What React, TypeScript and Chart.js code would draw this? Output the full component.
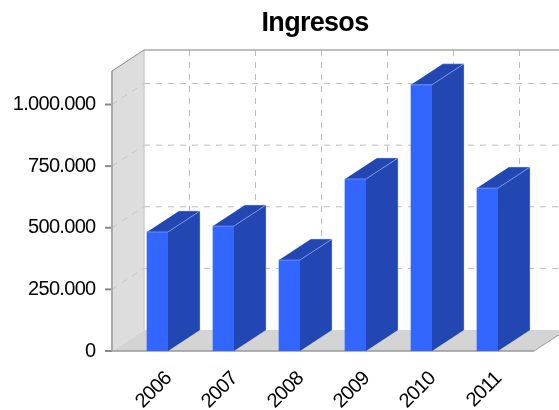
import React, { useEffect, useRef } from "react";
import { Chart, registerables } from "chart.js";

Chart.register(...registerables);

const titleText = "Ingresos";
const years = ["2006", "2007", "2008", "2009", "2010", "2011"];
const ingresos = [483000, 507000, 369000, 698000, 1080000, 661000];
const yTicks = [0, 250000, 500000, 750000, 1000000];
const yMax = 1136000;

const DX = 32;
const DY = 21;
const EXT_L = 12.5;
const EXT_R = 13.5;

const fmt = (v: number) => String(v).replace(/\B(?=(\d{3})+$)/g, ".");

const line = (ctx: any, pts: number[][], color: string, w: number, dash: number[] = []) => {
  ctx.save();
  ctx.strokeStyle = color;
  ctx.lineWidth = w;
  ctx.setLineDash(dash);
  ctx.beginPath();
  pts.forEach((p, i) => (i ? ctx.lineTo(p[0], p[1]) : ctx.moveTo(p[0], p[1])));
  ctx.stroke();
  ctx.restore();
};
const poly = (ctx: any, pts: number[][], color: string) => {
  ctx.fillStyle = color;
  ctx.beginPath();
  pts.forEach((p, i) => (i ? ctx.lineTo(p[0], p[1]) : ctx.moveTo(p[0], p[1])));
  ctx.closePath();
  ctx.fill();
};

const box3d = {
  id: "box3d",
  afterLayout(chart: any) {
    if (chart.titleBlock) {
      chart.titleBlock.left = 71;
      chart.titleBlock.right = 559;
    }
  },
  beforeDraw(chart: any) {
    chart.ctx.letterSpacing = "-0.7px";
  },
  beforeDatasetsDraw(chart: any) {
    const { ctx, chartArea: a, scales } = chart;
    const L = a.left - EXT_L;
    const R = a.right + EXT_R;
    const T = a.top;
    const B = a.bottom;
    // left wall and floor
    poly(ctx, [[L, T], [L + DX, T - DY], [L + DX, B - DY], [L, B]], "#dddddd");
    poly(ctx, [[L, B], [L + DX, B - DY], [R + DX, B - DY], [R, B]], "#d4d4d4");
    // grid
    const dash = [6, 6];
    scales.y.ticks.forEach((t: any) => {
      const y = scales.y.getPixelForValue(t.value);
      if (t.value > 0) {
        line(ctx, [[L, y], [L + DX, y - DY]], "#c4c4c4", 1, dash);
        line(ctx, [[L + DX, y - DY], [R + DX, y - DY]], "#bcbcbc", 1, dash);
      }
      line(ctx, [[L - 7, y], [L, y]], "#888888", 2);
    });
    years.forEach((_, i) => {
      const x = scales.x.getPixelForValue(i) + DX;
      line(ctx, [[x, T - DY], [x, B - DY]], "#bcbcbc", 1, dash);
    });
    // edges
    line(ctx, [[L + DX, T - DY], [L + DX, B - DY]], "#cccccc", 1.5);
    line(ctx, [[L, B], [L, T]], "#aaaaaa", 2);
    line(ctx, [[L, T], [L + DX, T - DY]], "#888888", 1);
    line(ctx, [[L + DX, T - DY], [R + DX, T - DY]], "#aaaaaa", 1.5);
    line(ctx, [[L, B], [R, B]], "#999999", 1.5);
    line(ctx, [[R, B], [R + DX, B - DY]], "#999999", 1);
  },
  afterDatasetsDraw(chart: any) {
    const { ctx } = chart;
    chart.getDatasetMeta(0).data.forEach((bar: any) => {
      const p = bar.getProps(["x", "y", "base", "width"], true);
      const l = p.x - p.width / 2;
      const r = p.x + p.width / 2;
      const side = [[r, p.y], [r + DX, p.y - DY], [r + DX, p.base - DY], [r, p.base]];
      const top = [[l, p.y], [l + DX, p.y - DY], [r + DX, p.y - DY], [r, p.y]];
      poly(ctx, side, "#2247b3");
      poly(ctx, top, "#2247b3");
      line(ctx, [[l, p.y], [r, p.y], [r + DX, p.y - DY]], "rgba(170,190,255,0.7)", 0.7);
      line(ctx, [[l + DX, p.y - DY], [r + DX, p.y - DY], [r + DX, p.base - DY]], "rgba(190,205,255,0.6)", 0.7);
    });
  },
};

export default function App() {
  const ref = useRef<HTMLCanvasElement>(null);
  useEffect(() => {
    const chart = new Chart(ref.current as HTMLCanvasElement, {
      type: "bar",
      data: {
        labels: years,
        datasets: [
          {
            label: titleText,
            data: ingresos,
            backgroundColor: "#3366ff",
            borderWidth: 0,
            barThickness: 21,
          },
        ],
      },
      options: {
        responsive: false,
        animation: false,
        devicePixelRatio: 1,
        layout: { padding: { left: 0, right: 38.5, top: 0, bottom: 0 } },
        plugins: {
          legend: { display: false },
          tooltip: { enabled: false },
          title: {
            display: true,
            text: titleText,
            color: "#000000",
            font: { family: "'Liberation Sans'", size: 27, weight: "bold", lineHeight: 1.2 },
            padding: { top: 7, bottom: 31.6 },
          },
        },
        scales: {
          x: {
            grid: { display: false },
            border: { display: false },
            ticks: {
              color: "#000000",
              font: { family: "'Liberation Sans'", size: 20 },
              minRotation: 45,
              maxRotation: 45,
              autoSkip: false,
              padding: 8,
              labelOffset: 11,
            },
            afterFit: (s: any) => { s.height = 59; },
          },
          y: {
            min: 0,
            max: yMax,
            afterBuildTicks: (s: any) => { s.ticks = yTicks.map((value) => ({ value })); },
            grid: { display: false },
            border: { display: false },
            ticks: {
              color: "#000000",
              font: { family: "'Liberation Sans'", size: 20 },
              padding: 21,
              callback: (v: any) => fmt(Number(v)),
            },
            afterFit: (s: any) => { s.width = 124.5; },
          },
        },
      } as any,
      plugins: [box3d],
    });
    return () => chart.destroy();
  }, []);
  return (
    <canvas
      ref={ref}
      width={559}
      height={410}
      style={{ position: "fixed", left: 0, top: 0, width: 559, height: 410, background: "#ffffff" }}
    />
  );
}
